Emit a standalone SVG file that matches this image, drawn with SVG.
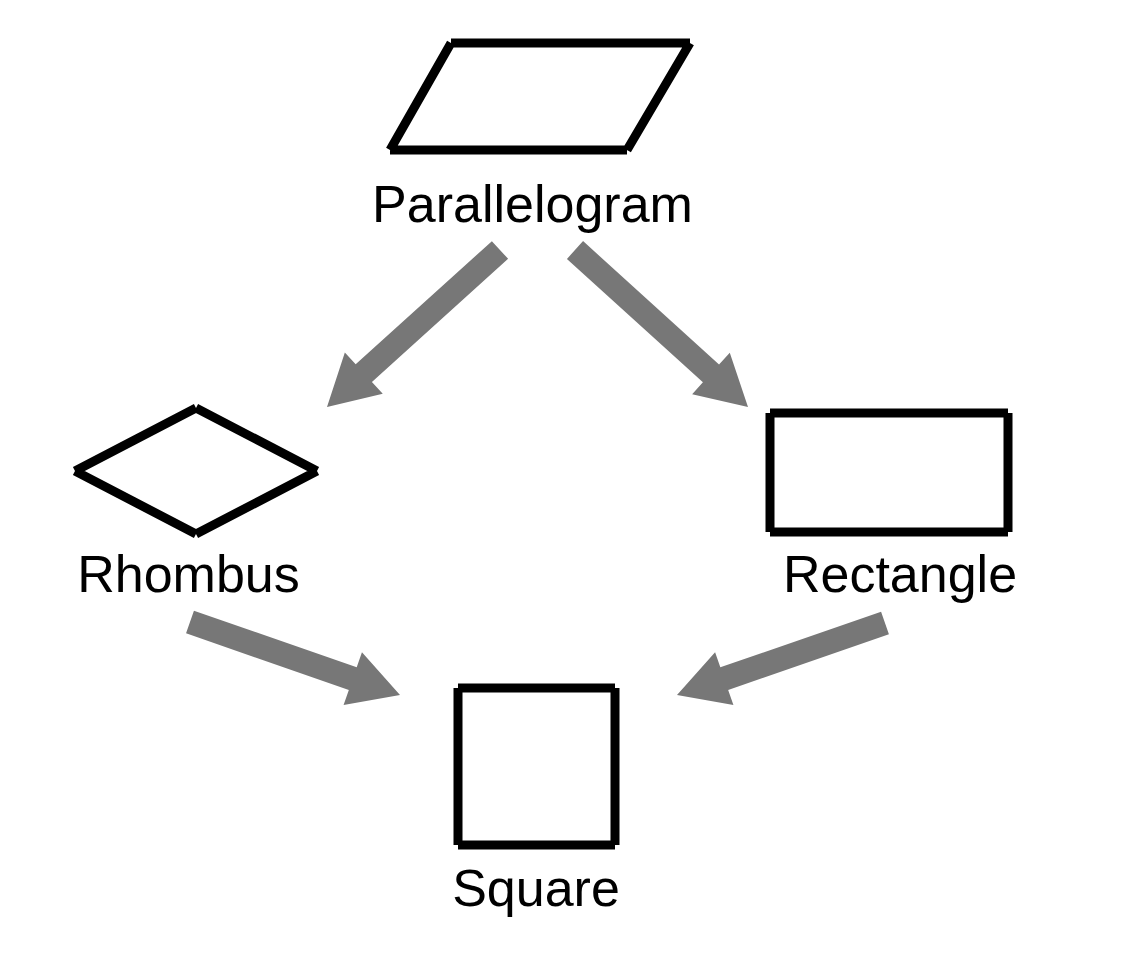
<svg xmlns="http://www.w3.org/2000/svg" width="1132" height="972" viewBox="0 0 1132 972">
<style>
.shape{fill:none;stroke:#000;stroke-width:9;stroke-linecap:butt}
.lbl{font-family:"Liberation Sans",Arial,Helvetica,sans-serif;font-size:52px;fill:#000;text-anchor:middle}
.arrow{fill:#777777;stroke:none}
</style>
<rect width="1132" height="972" fill="#fff"/>
<g id="connectors">
<polygon class="arrow" points="508.12,258.83 371.92,381.98 382.76,393.76 327,407 344.84,352.54 355.68,364.32 491.88,241.17"/>
<polygon class="arrow" points="566.94,258.89 702.91,382.29 692.15,394.14 748,407 729.79,352.66 719.03,364.51 583.06,241.11"/>
<polygon class="arrow" points="186.06,633.34 348.83,689.92 343.58,705.03 400,695 361.96,652.13 356.71,667.24 193.94,610.66"/>
<polygon class="arrow" points="888.92,634.34 728.17,689.99 733.41,705.11 677,695 715.09,652.19 720.33,667.31 881.08,611.66"/>
</g>
<g id="parallelogram">
<path class="shape" d="M451,43 H690 M690,43 L627,150 M627,150 H390 M390,150 L451,43"/>
<text class="lbl" x="532.5" y="222">Parallelogram</text>
</g>
<g id="rhombus">
<path class="shape" d="M196,408 L75,471 M75,471 L196,534 M196,534 L317,471 M317,471 L196,408"/>
<text class="lbl" x="188.5" y="592">Rhombus</text>
</g>
<g id="rectangle">
<path class="shape" d="M770,413 H1008 M1008,413 V532 M1008,532 H770 M770,532 V413"/>
<text class="lbl" x="900" y="592">Rectangle</text>
</g>
<g id="square">
<path class="shape" d="M458,688 H615 M615,688 V845 M615,845 H458 M458,845 V688"/>
<text class="lbl" x="536" y="906">Square</text>
</g>
</svg>
